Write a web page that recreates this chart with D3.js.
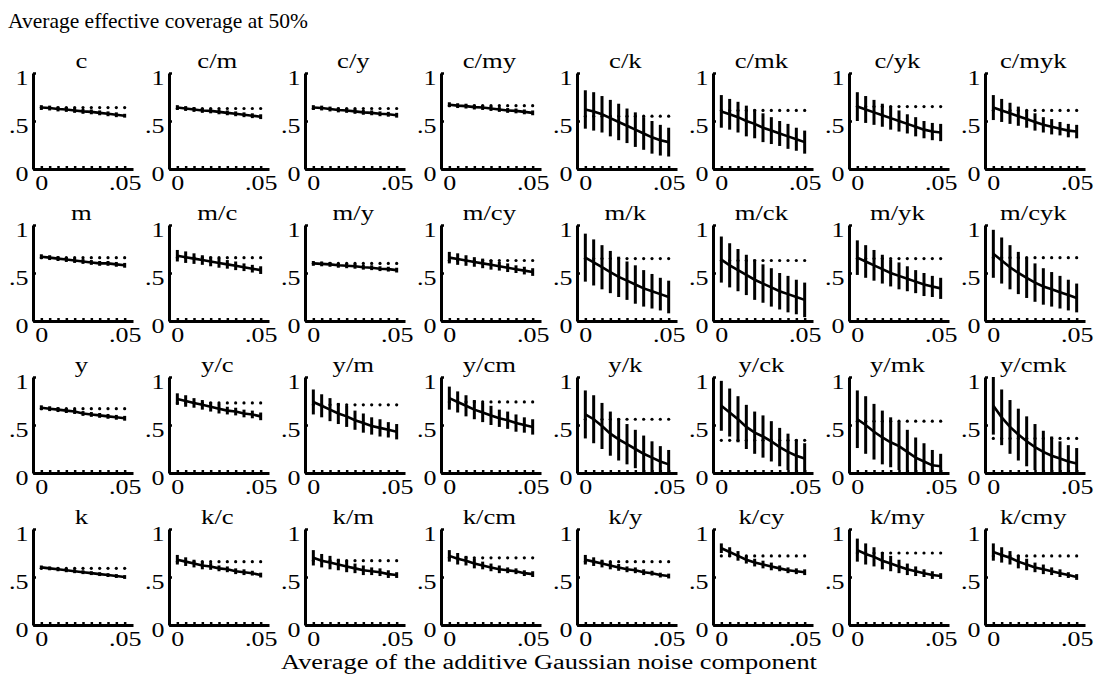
<!DOCTYPE html>
<html><head><meta charset="utf-8">
<script src="https://cdn.jsdelivr.net/npm/d3@7"></script>
<style>
body{margin:0;background:#fff}
text{font-family:"Liberation Serif","Times New Roman",serif;fill:#000}
</style>
</head><body>
<svg id="chart" width="1099" height="682"></svg>
<script>
const xValues=[0,0.005,0.01,0.015,0.02,0.025,0.03,0.035,0.04,0.045,0.05];
const xTickLabels={0:"0",0.05:".05"};
const yTickLabels={0:"0",0.5:".5",1:"1"};

const titles1=["c","c/m","c/y","c/my","c/k","c/mk","c/yk","c/myk"];
const titles2=["m","m/c","m/y","m/cy","m/k","m/ck","m/yk","m/cyk"];
const titles3=["y","y/c","y/m","y/cm","y/k","y/ck","y/mk","y/cmk"];
const titles4=["k","k/c","k/m","k/cm","k/y","k/cy","k/my","k/cmy"];

const means1=[
[0.64,0.635,0.625,0.62,0.61,0.60,0.595,0.585,0.575,0.565,0.555],
[0.64,0.63,0.62,0.61,0.605,0.595,0.585,0.575,0.565,0.555,0.545],
[0.64,0.635,0.625,0.615,0.61,0.60,0.59,0.585,0.575,0.57,0.56],
[0.67,0.66,0.655,0.645,0.64,0.63,0.62,0.61,0.605,0.595,0.585],
[0.62,0.60,0.57,0.53,0.49,0.45,0.41,0.37,0.33,0.30,0.28],
[0.60,0.57,0.54,0.50,0.47,0.43,0.40,0.37,0.34,0.31,0.28],
[0.65,0.62,0.59,0.56,0.53,0.50,0.47,0.44,0.41,0.39,0.38],
[0.64,0.61,0.58,0.55,0.52,0.49,0.46,0.44,0.42,0.40,0.39]];
const errs1=[
[0.025,0.025,0.025,0.025,0.025,0.025,0.025,0.025,0.025,0.025,0.02],
[0.025,0.025,0.025,0.025,0.025,0.025,0.025,0.025,0.025,0.025,0.025],
[0.025,0.025,0.025,0.025,0.025,0.025,0.025,0.025,0.025,0.025,0.025],
[0.025,0.025,0.025,0.025,0.025,0.025,0.025,0.025,0.025,0.025,0.025],
[0.20,0.20,0.19,0.19,0.19,0.18,0.18,0.17,0.17,0.16,0.15],
[0.17,0.16,0.16,0.16,0.15,0.15,0.14,0.13,0.13,0.12,0.12],
[0.15,0.14,0.13,0.12,0.12,0.11,0.10,0.10,0.09,0.09,0.09],
[0.13,0.12,0.11,0.10,0.09,0.09,0.08,0.08,0.07,0.07,0.07]];
const refs1=[
[0.64,0.64,0.64,0.64,0.64,0.64,0.64,0.64,0.64,0.64,0.64],
[0.63,0.63,0.63,0.63,0.63,0.63,0.63,0.63,0.63,0.63,0.63],
[0.63,0.63,0.63,0.63,0.63,0.63,0.63,0.63,0.63,0.63,0.63],
[0.66,0.66,0.66,0.66,0.66,0.66,0.66,0.66,0.66,0.66,0.66],
[0.55,0.55,0.55,0.55,0.55,0.55,0.55,0.55,0.55,0.55,0.55],
[0.61,0.61,0.61,0.61,0.61,0.61,0.61,0.61,0.61,0.61,0.61],
[0.65,0.65,0.65,0.65,0.65,0.65,0.65,0.65,0.65,0.65,0.65],
[0.61,0.61,0.61,0.61,0.61,0.61,0.61,0.61,0.61,0.61,0.61]];

const means2=[
[0.67,0.66,0.65,0.64,0.63,0.62,0.61,0.60,0.60,0.59,0.58],
[0.68,0.665,0.65,0.635,0.62,0.605,0.59,0.575,0.56,0.545,0.53],
[0.60,0.595,0.59,0.58,0.575,0.57,0.56,0.555,0.545,0.54,0.53],
[0.66,0.645,0.63,0.615,0.60,0.585,0.57,0.555,0.54,0.525,0.51],
[0.66,0.61,0.56,0.51,0.46,0.42,0.38,0.34,0.31,0.28,0.25],
[0.64,0.58,0.53,0.48,0.43,0.39,0.35,0.31,0.28,0.25,0.22],
[0.66,0.62,0.58,0.54,0.50,0.47,0.44,0.41,0.38,0.36,0.34],
[0.70,0.63,0.56,0.50,0.45,0.40,0.36,0.33,0.30,0.27,0.24]];
const errs2=[
[0.025,0.025,0.025,0.025,0.025,0.025,0.025,0.025,0.025,0.025,0.025],
[0.06,0.06,0.055,0.05,0.05,0.05,0.045,0.045,0.04,0.04,0.04],
[0.025,0.025,0.025,0.025,0.025,0.025,0.025,0.025,0.025,0.025,0.025],
[0.06,0.06,0.055,0.05,0.05,0.05,0.045,0.045,0.04,0.04,0.04],
[0.25,0.24,0.23,0.22,0.21,0.20,0.20,0.19,0.18,0.17,0.17],
[0.24,0.23,0.22,0.21,0.21,0.20,0.20,0.19,0.19,0.18,0.18],
[0.18,0.17,0.16,0.15,0.14,0.14,0.13,0.12,0.12,0.11,0.11],
[0.25,0.24,0.23,0.22,0.21,0.20,0.19,0.18,0.17,0.16,0.15]];
const refs2=[
[0.66,0.66,0.66,0.66,0.66,0.66,0.66,0.66,0.66,0.66,0.66],
[0.66,0.66,0.66,0.66,0.66,0.66,0.66,0.66,0.66,0.66,0.66],
[0.60,0.60,0.60,0.60,0.60,0.60,0.60,0.60,0.60,0.60,0.60],
[0.63,0.63,0.63,0.63,0.63,0.63,0.63,0.63,0.63,0.63,0.63],
[0.65,0.65,0.65,0.65,0.65,0.65,0.65,0.65,0.65,0.65,0.65],
[0.63,0.63,0.63,0.63,0.63,0.63,0.63,0.63,0.63,0.63,0.63],
[0.65,0.65,0.65,0.65,0.65,0.65,0.65,0.65,0.65,0.65,0.65],
[0.66,0.66,0.66,0.66,0.66,0.66,0.66,0.66,0.66,0.66,0.66]];

const means3=[
[0.68,0.67,0.66,0.65,0.64,0.62,0.61,0.60,0.59,0.58,0.57],
[0.77,0.75,0.73,0.71,0.69,0.67,0.65,0.64,0.62,0.61,0.59],
[0.74,0.70,0.66,0.62,0.59,0.55,0.52,0.49,0.47,0.45,0.43],
[0.78,0.74,0.70,0.66,0.63,0.60,0.57,0.55,0.52,0.50,0.48],
[0.61,0.56,0.49,0.41,0.35,0.30,0.25,0.20,0.16,0.12,0.09],
[0.70,0.63,0.56,0.48,0.42,0.38,0.33,0.27,0.22,0.18,0.15],
[0.56,0.50,0.43,0.37,0.32,0.28,0.22,0.16,0.12,0.08,0.07],
[0.70,0.58,0.48,0.40,0.33,0.27,0.22,0.18,0.15,0.12,0.10]];
const errs3=[
[0.025,0.025,0.025,0.025,0.025,0.025,0.025,0.025,0.025,0.025,0.025],
[0.06,0.06,0.05,0.05,0.05,0.05,0.04,0.04,0.04,0.04,0.04],
[0.13,0.12,0.12,0.11,0.11,0.10,0.10,0.09,0.09,0.08,0.08],
[0.12,0.11,0.11,0.10,0.10,0.10,0.09,0.09,0.09,0.08,0.08],
[0.25,0.25,0.24,0.23,0.22,0.21,0.20,0.19,0.17,0.16,0.15],
[0.26,0.25,0.24,0.23,0.22,0.22,0.21,0.20,0.19,0.17,0.16],
[0.30,0.30,0.29,0.28,0.26,0.25,0.23,0.21,0.19,0.16,0.13],
[0.30,0.29,0.28,0.27,0.26,0.24,0.22,0.20,0.18,0.17,0.16]];
const refs3=[
[0.67,0.67,0.67,0.67,0.67,0.67,0.67,0.67,0.67,0.67,0.67],
[0.73,0.73,0.73,0.73,0.73,0.73,0.73,0.73,0.73,0.73,0.73],
[0.71,0.71,0.71,0.71,0.71,0.71,0.71,0.71,0.71,0.71,0.71],
[0.74,0.74,0.74,0.74,0.74,0.74,0.74,0.74,0.74,0.74,0.74],
[0.56,0.56,0.56,0.56,0.56,0.56,0.56,0.56,0.56,0.56,0.56],
[0.34,0.34,0.34,0.34,0.34,0.34,0.34,0.34,0.34,0.34,0.34],
[0.54,0.54,0.54,0.54,0.54,0.54,0.54,0.54,0.54,0.54,0.54],
[0.36,0.36,0.36,0.36,0.36,0.36,0.36,0.36,0.36,0.36,0.36]];

const means4=[
[0.60,0.59,0.58,0.57,0.56,0.55,0.54,0.53,0.52,0.51,0.50],
[0.68,0.66,0.64,0.62,0.61,0.59,0.58,0.56,0.55,0.54,0.52],
[0.70,0.67,0.65,0.63,0.61,0.59,0.57,0.56,0.55,0.53,0.52],
[0.72,0.69,0.67,0.64,0.62,0.60,0.58,0.57,0.56,0.54,0.53],
[0.68,0.66,0.64,0.62,0.60,0.58,0.57,0.55,0.54,0.52,0.51],
[0.80,0.76,0.72,0.68,0.65,0.63,0.61,0.59,0.57,0.56,0.55],
[0.78,0.74,0.71,0.67,0.64,0.61,0.58,0.56,0.54,0.52,0.51],
[0.76,0.73,0.70,0.66,0.63,0.60,0.58,0.56,0.54,0.52,0.50]];
const errs4=[
[0.02,0.02,0.02,0.02,0.02,0.02,0.02,0.02,0.02,0.02,0.02],
[0.05,0.045,0.04,0.04,0.035,0.03,0.03,0.03,0.03,0.025,0.025],
[0.08,0.07,0.07,0.06,0.06,0.05,0.05,0.04,0.04,0.04,0.03],
[0.06,0.06,0.05,0.05,0.04,0.04,0.04,0.03,0.03,0.03,0.03],
[0.05,0.045,0.04,0.04,0.035,0.03,0.03,0.03,0.025,0.025,0.025],
[0.05,0.05,0.05,0.04,0.04,0.04,0.04,0.03,0.03,0.03,0.03],
[0.12,0.11,0.10,0.09,0.08,0.07,0.06,0.05,0.04,0.04,0.03],
[0.09,0.08,0.07,0.07,0.06,0.05,0.05,0.04,0.04,0.03,0.03]];
const refs4=[
[0.59,0.59,0.59,0.59,0.59,0.59,0.59,0.59,0.59,0.59,0.59],
[0.66,0.66,0.66,0.66,0.66,0.66,0.66,0.66,0.66,0.66,0.66],
[0.67,0.67,0.67,0.67,0.67,0.67,0.67,0.67,0.67,0.67,0.67],
[0.70,0.70,0.70,0.70,0.70,0.70,0.70,0.70,0.70,0.70,0.70],
[0.66,0.66,0.66,0.66,0.66,0.66,0.66,0.66,0.66,0.66,0.66],
[0.72,0.72,0.72,0.72,0.72,0.72,0.72,0.72,0.72,0.72,0.72],
[0.75,0.75,0.75,0.75,0.75,0.75,0.75,0.75,0.75,0.75,0.75],
[0.72,0.72,0.72,0.72,0.72,0.72,0.72,0.72,0.72,0.72,0.72]];

const rows=[
 {titles:titles1,means:means1,errs:errs1,refs:refs1},
 {titles:titles2,means:means2,errs:errs2,refs:refs2},
 {titles:titles3,means:means3,errs:errs3,refs:refs3},
 {titles:titles4,means:means4,errs:errs4,refs:refs4}];

const svg=d3.select("#chart");
const left0=33, top0=73, colStep=136, rowStep=152, pw=100, ph=96;
const FONT="'Liberation Serif','Times New Roman',serif";

svg.append("text").attr("x",8).attr("y",28).attr("font-size",21.5)
  .text("Average effective coverage at 50%");
svg.append("text").attr("transform","translate(549,669) scale(1.32,1)").attr("font-size",20)
  .attr("text-anchor","middle").text("Average of the additive Gaussian noise component");

const x=d3.scaleLinear().domain([-0.005,0.055]).range([0,pw]);
const y=d3.scaleLinear().domain([0,1]).range([ph,0]);
const line=d3.line().x((d,i)=>x(xValues[i])).y(d=>y(d));

rows.forEach((row,r)=>{
  row.titles.forEach((t,c)=>{
    const g=svg.append("g").attr("transform",`translate(${left0+c*colStep},${top0+r*rowStep})`);
    g.append("text").attr("transform",`translate(${x(0.024)},-5) scale(1.3,1)`)
      .attr("text-anchor","middle").attr("font-size",20.5).text(t);
    g.selectAll("circle.ref").data(row.refs[c]).join("circle").attr("class","ref")
      .attr("cx",(d,i)=>x(xValues[i])).attr("cy",d=>y(d)).attr("r",1.6).attr("fill","#000");
    const m=row.means[c], e=row.errs[c];
    g.selectAll("line.err").data(m).join("line").attr("class","err")
      .attr("x1",(d,i)=>x(xValues[i])).attr("x2",(d,i)=>x(xValues[i]))
      .attr("y1",(d,i)=>y(Math.min(1,d+e[i]))).attr("y2",(d,i)=>y(Math.max(0,d-e[i])))
      .attr("stroke","#000").attr("stroke-width",3);
    g.append("path").datum(m).attr("d",line).attr("fill","none")
      .attr("stroke","#000").attr("stroke-width",2.6);
    const xa=g.append("g").attr("transform",`translate(0,${ph})`)
      .call(d3.axisBottom(x).tickValues(xValues).tickSizeInner(-3).tickSizeOuter(0).tickPadding(7)
        .tickFormat(d=>xTickLabels[d]!==undefined?xTickLabels[d]:""));
    const ya=g.append("g")
      .call(d3.axisLeft(y).tickValues([0,0.5,1]).tickSizeInner(-3).tickSizeOuter(0).tickPadding(3.5)
        .tickFormat(d=>yTickLabels[d]));
    [xa,ya].forEach(a=>{
      a.select(".domain").attr("stroke","#000").attr("stroke-width",3);
      a.selectAll(".tick line").attr("stroke","#000").attr("stroke-width",2.5);
      a.selectAll(".tick text").attr("font-size",20).attr("font-family",FONT)
        .attr("fill","#000").attr("transform","scale(1.3,1)");
    });
    ya.selectAll(".tick text").attr("dy","0.55em");
  });
});
</script>
</body></html>
